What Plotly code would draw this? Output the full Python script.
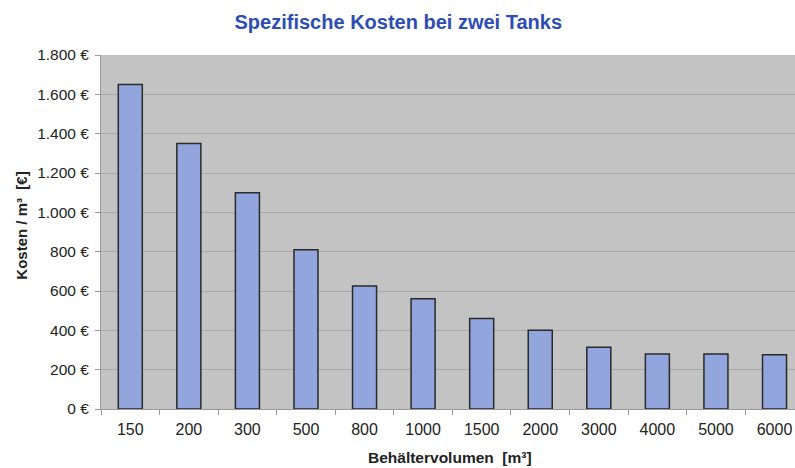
import plotly.graph_objects as go

volumes = ["150", "200", "300", "500", "800", "1000", "1500", "2000", "3000", "4000", "5000", "6000"]
costs = [1650, 1350, 1100, 810, 625, 560, 460, 400, 314, 280, 280, 276]
y_ticks = [0, 200, 400, 600, 800, 1000, 1200, 1400, 1600, 1800]
y_tick_labels = ["0 €", "200 €", "400 €", "600 €", "800 €", "1.000 €", "1.200 €", "1.400 €", "1.600 €", "1.800 €"]

FONT = "Liberation Sans, Arial, Helvetica, sans-serif"

fig = go.Figure(go.Bar(
    x=volumes, y=costs,
    marker=dict(color="#92a5dd", line=dict(color="#2a2a2a", width=1.5)),
    width=0.41,
))

fig.update_layout(
    width=795, height=468,
    margin=dict(l=101, r=0, t=55, b=59, autoexpand=False),
    paper_bgcolor="white",
    plot_bgcolor="#c3c3c3",
    showlegend=False,
    font=dict(family=FONT, color="#222222", size=16),
    title=dict(text="<b>Spezifische Kosten bei zwei Tanks</b>", x=0.501, xanchor="center",
               xref="container", yref="container",
               y=0.953, yanchor="middle",
               font=dict(size=20, color="#2d4db5", family=FONT)),
    annotations=[
        dict(text="<b>Behältervolumen  [m³]</b>", xref="paper", yref="paper",
             x=0.503, y=-0.1356, xanchor="center", yanchor="middle",
             showarrow=False, font=dict(size=15.5, color="#222222", family=FONT)),
        dict(text="<b>Kosten / m³  [€]</b>", xref="paper", yref="paper",
             x=-0.1138, y=0.518, xanchor="center", yanchor="middle", textangle=-90,
             showarrow=False, font=dict(size=15, color="#222222", family=FONT)),
    ],
)
fig.update_xaxes(
    type="category",
    range=[-0.5, 11.35],
    tickson="boundaries",
    ticks="outside", ticklen=5, tickcolor="#999999",
    showline=True, linecolor="#999999", linewidth=1,
    showgrid=False,
    automargin=False,
    tickfont=dict(size=16),
    ticklabelstandoff=6,
)
fig.update_yaxes(
    range=[0, 1800],
    tickvals=y_ticks, ticktext=y_tick_labels,
    ticks="outside", ticklen=5, tickcolor="#999999",
    showline=True, linecolor="#999999", linewidth=1,
    showgrid=True, gridcolor="#a9a9a9", gridwidth=1,
    zeroline=False,
    automargin=False,
    tickfont=dict(size=15.5),
    ticklabelstandoff=3,
)

fig.write_html("out.html", config={"displayModeBar": False},
               post_script="document.body.style.margin='0';document.body.style.overflow='hidden';")
